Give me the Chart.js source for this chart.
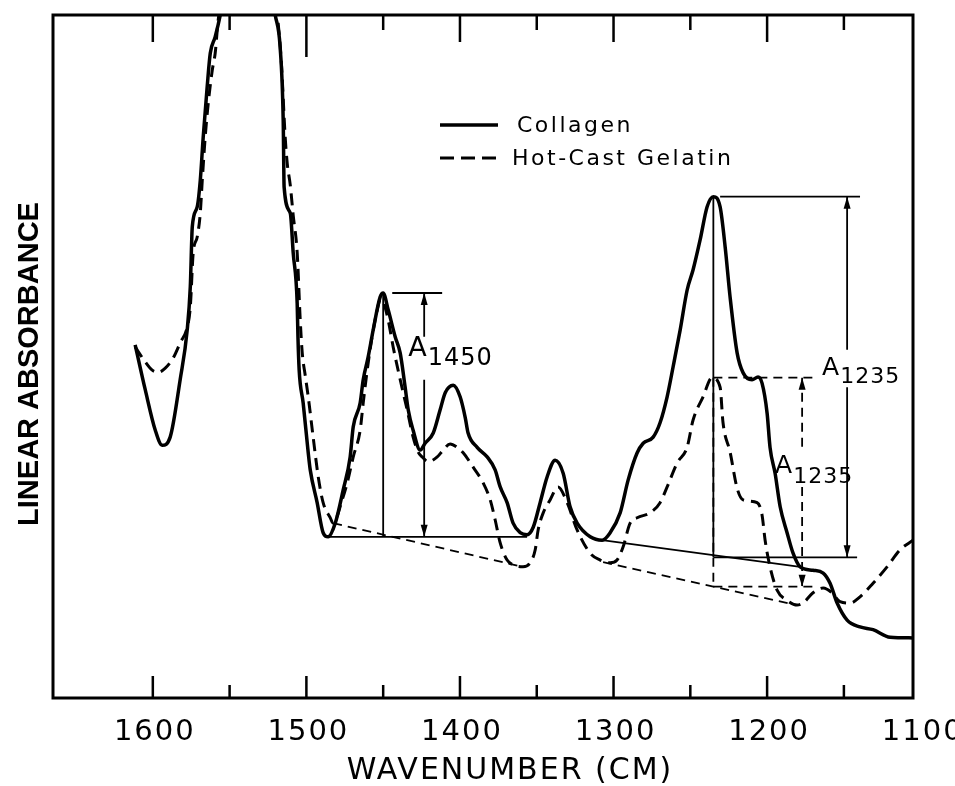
<!DOCTYPE html>
<html>
<head>
<meta charset="utf-8">
<script src="https://cdn.jsdelivr.net/npm/chart.js@4.4.0/dist/chart.umd.min.js"></script>
<style>
  html, body { margin: 0; padding: 0; background: #fff; }
  #wrap { width: 955px; height: 786px; }
</style>
</head>
<body>
<div id="wrap"><canvas id="chSpectra" width="955" height="786"></canvas></div>
<script>
// wavenumber (cm-1) and absorbance (arbitrary units, 0-100 over the frame)
var collagenWn = [1611.5,1604.9,1598.4,1593.9,1588.7,1582.2,1577.6,1575.6,1574.3,1571.1,
  1569.1,1567.2,1564.6,1562.6,1559.4,1556.1,1538.5,1520.3,1517.1,1515.1,
  1514.5,1510.5,1508.6,1506.0,1505.5,1504.7,1502.1,1498.8,1497.5,1493.0,
  1489.1,1485.8,1481.2,1476.0,1471.5,1469.5,1465.0,1463.0,1459.8,1456.5,
  1452.0,1450.0,1446.7,1442.2,1438.9,1435.7,1433.7,1430.5,1425.9,1422.7,
  1417.4,1412.9,1409.6,1404.4,1399.9,1396.6,1394.7,1388.8,1382.3,1377.1,
  1373.8,1369.3,1365.4,1360.8,1356.3,1352.3,1347.8,1343.2,1338.0,1332.8,
  1328.3,1323.7,1315.2,1307.4,1302.2,1295.7,1290.5,1284.6,1280.7,1274.2,
  1269.7,1265.1,1261.2,1256.6,1252.1,1248.2,1243.6,1239.1,1235.0,1230.6,
  1227.3,1224.1,1219.5,1215.6,1209.8,1205.9,1203.3,1200.0,1198.1,1194.8,
  1191.5,1187.0,1183.1,1178.5,1170.1,1163.5,1159.0,1154.4,1147.9,1139.5,
  1131.0,1119.9,1105.0];
var collagenAbs = [51.7,45.1,39.2,37.0,38.2,46.6,53.9,60.2,69.0,71.9,
  75.8,82.1,89.5,94.4,96.8,100,124,100,95.3,84.6,
  74.8,71.0,65.2,57.8,52.9,48.0,43.2,35.9,33.4,28.6,
  24.2,23.6,25.6,30.5,35.3,39.7,43.2,46.6,49.9,53.9,
  58.7,59.3,56.8,52.9,50.5,45.5,42.2,39.2,36.3,37.3,
  38.8,42.2,44.7,45.8,44.1,41.1,38.8,36.7,35.3,33.4,
  30.9,28.6,25.6,24.2,23.9,25.0,28.6,32.4,34.8,32.9,
  28.0,25.6,23.6,23.1,24.2,27.1,31.9,35.9,37.3,38.2,
  40.3,44.1,48.5,53.9,59.7,62.7,67.1,71.9,73.4,71.9,
  66.0,58.7,50.5,47.6,46.6,47.0,46.1,41.7,36.7,32.9,
  28.0,24.2,21.2,19.2,18.7,18.3,16.8,13.9,11.4,10.4,
  10.0,8.9,8.8];

var gelatinWn = [1611.5,1604.9,1600.4,1596.5,1591.9,1586.7,1582.2,1577.6,1575.6,1573.7,
  1571.1,1569.1,1567.8,1565.9,1563.9,1561.3,1559.4,1557.4,1538.5,1519.0,
  1516.4,1513.8,1512.5,1510.5,1508.6,1506.0,1504.0,1502.7,1500.8,1498.8,
  1495.6,1492.3,1489.1,1484.5,1482.6,1476.7,1473.4,1469.5,1465.0,1463.0,
  1460.4,1457.2,1453.9,1452.0,1450.0,1446.7,1443.5,1438.9,1434.4,1430.5,
  1427.2,1424.6,1420.7,1414.8,1410.9,1406.4,1401.8,1397.9,1391.4,1384.9,
  1380.3,1377.1,1373.8,1369.3,1365.4,1358.9,1354.3,1351.0,1349.1,1345.8,
  1341.3,1336.1,1330.2,1323.7,1315.2,1308.7,1302.2,1297.7,1293.8,1289.2,
  1284.6,1276.2,1269.7,1265.1,1258.6,1252.1,1248.2,1241.7,1235.8,1230.6,
  1228.7,1224.1,1219.5,1215.6,1206.5,1203.3,1201.3,1198.1,1193.5,1187.0,
  1180.5,1176.6,1170.1,1163.5,1157.7,1152.5,1146.0,1139.5,1131.0,1121.9,
  1113.4,1105.0];
var gelatinAbs = [51.4,49.2,48.0,47.7,48.3,49.8,52.0,54.3,57.2,65.2,
  67.5,71.0,75.8,82.1,87.1,91.9,94.4,99.3,122,100,
  93.4,82.1,78.3,75.1,70.7,65.2,55.3,50.5,47.3,44.1,
  38.2,32.4,28.6,26.4,25.6,29.0,31.5,35.3,39.2,43.2,
  48.0,52.9,56.8,58.3,58.0,55.3,51.4,46.6,42.2,38.2,
  36.0,35.3,34.6,35.3,36.3,37.2,36.7,35.9,33.8,31.5,
  29.0,26.1,22.7,20.2,19.5,19.2,19.8,21.7,24.6,27.1,
  29.0,30.9,28.6,24.6,21.2,20.2,19.8,20.2,22.1,25.6,
  26.4,27.1,28.6,30.9,34.4,36.7,40.7,44.1,46.9,45.5,
  40.3,36.0,30.7,29.0,28.6,26.8,23.1,19.2,15.8,14.3,
  13.6,13.9,15.4,16.1,15.4,14.1,13.9,14.8,16.8,19.2,
  21.7,23.1];

// baselines drawn under the bands: [wn, abs] end points
var collagenBase1450 = [[1485.8, 23.6], [1356.3, 23.6]];
var gelatinBase1450 = [[1482.6, 25.6], [1358.9, 19.2]];
var collagenBase1235 = [[1307.4, 23.1], [1178.5, 19.2]];
var gelatinBase1235 = [[1306.8, 19.9], [1180.5, 13.6]];

// band height measurements: [band, peak, baseline]
var collagenA1450 = [1450, 59.3, 23.6];
var collagenA1235 = [1235, 73.4, 20.6];
var gelatinA1235 = [1235, 46.9, 16.3];

var xLabelTicks = [1600, 1500, 1400, 1300, 1200, 1100];
var xMinorTicks = [1550, 1450, 1350, 1250, 1150];

function pts(wn, abs) {
  return wn.map(function (w, i) { return {x: w, y: abs[i]}; });
}
function seg(p) {
  return p.map(function (q) { return q ? {x: q[0], y: q[1]} : {x: NaN, y: NaN}; });
}

var thin = 1.8;
var dashT = [9, 6];

function lineSet(data, dashed, width) {
  return {
    data: data, borderColor: '#000', borderWidth: width || thin,
    borderDash: dashed ? dashT : [], pointRadius: 0, tension: 0, spanGaps: false
  };
}

var datasets = [
  {
    label: 'Collagen', data: pts(collagenWn, collagenAbs),
    borderColor: '#000', borderWidth: 3.5, pointRadius: 0,
    cubicInterpolationMode: 'monotone'
  },
  {
    label: 'Hot-Cast Gelatin', data: pts(gelatinWn, gelatinAbs),
    borderColor: '#000', borderWidth: 3, borderDash: [12, 7], pointRadius: 0,
    cubicInterpolationMode: 'monotone'
  },
  // baselines
  lineSet(seg(collagenBase1450), false),
  lineSet(seg(gelatinBase1450), true),
  lineSet(seg(collagenBase1235), false),
  lineSet(seg(gelatinBase1235), true),
  // A1450, collagen
  lineSet(seg([[collagenA1450[0], collagenA1450[1]], [collagenA1450[0], collagenA1450[2]]]), false),
  lineSet(seg([[1444.1, collagenA1450[1]], [1411.6, collagenA1450[1]]]), false),
  lineSet(seg([[1423.3, collagenA1450[1]], [1423.3, 52.9], null, [1423.3, 46.6], [1423.3, collagenA1450[2]]]), false),
  // A1235, collagen
  lineSet(seg([[collagenA1235[0], collagenA1235[1]], [collagenA1235[0], collagenA1235[2]]]), false),
  lineSet(seg([[1230.6, collagenA1235[1]], [1139.5, collagenA1235[1]]]), false),
  lineSet(seg([[collagenA1235[0], collagenA1235[2]], [1141.4, collagenA1235[2]]]), false),
  lineSet(seg([[1147.9, collagenA1235[1]], [1147.9, 51.0], null, [1147.9, 45.5], [1147.9, collagenA1235[2]]]), false),
  // A1235, gelatin
  lineSet(seg([[gelatinA1235[0], gelatinA1235[1]], [gelatinA1235[0], gelatinA1235[2]]]), true),
  lineSet(seg([[gelatinA1235[0], gelatinA1235[1]], [1168.8, gelatinA1235[1]]]), true),
  lineSet(seg([[gelatinA1235[0], gelatinA1235[2]], [1170.1, gelatinA1235[2]]]), true),
  lineSet(seg([[1177.2, gelatinA1235[1]], [1177.2, 35.9], null, [1177.2, 30.9], [1177.2, gelatinA1235[2]]]), true)
];

// arrow heads: [wn, abs, direction] (-1 up, 1 down)
var arrowHeads = [
  [1423.3, collagenA1450[1], -1], [1423.3, collagenA1450[2], 1],
  [1147.9, collagenA1235[1], -1], [1147.9, collagenA1235[2], 1],
  [1177.2, gelatinA1235[1], -1], [1177.2, gelatinA1235[2], 1]
];

function subLabel(ctx, x, y, main, sub, mainPx, subPx, drop) {
  ctx.textAlign = 'left';
  ctx.textBaseline = 'alphabetic';
  ctx.font = mainPx + 'px "DejaVu Sans"';
  ctx.fillText(main, x, y);
  var w = ctx.measureText(main).width;
  ctx.font = subPx + 'px "DejaVu Sans"';
  ctx.letterSpacing = '1px';
  ctx.fillText(sub, x + w + 1, y + drop);
  ctx.letterSpacing = '0px';
}

var decorations = {
  id: 'decorations',
  afterDatasetsDraw: function (chart) {
    var ctx = chart.ctx, a = chart.chartArea;
    var xs = chart.scales.x, ys = chart.scales.y;
    ctx.save();
    ctx.strokeStyle = '#000';
    ctx.fillStyle = '#000';
    ctx.setLineDash([]);

    // frame
    ctx.lineWidth = 3;
    ctx.strokeRect(a.left, a.top, a.right - a.left, a.bottom - a.top);

    // ticks on top and bottom edges
    ctx.lineWidth = 2.5;
    function tick(w, topLen, botLen) {
      var x = xs.getPixelForValue(w);
      ctx.beginPath();
      ctx.moveTo(x, a.top); ctx.lineTo(x, a.top + topLen);
      ctx.moveTo(x, a.bottom); ctx.lineTo(x, a.bottom - botLen);
      ctx.stroke();
    }
    xLabelTicks.forEach(function (w) {
      if (w > xs.min) tick(w, w === 1500 ? 42 : 27, 22);
    });
    xMinorTicks.forEach(function (w) { tick(w, 15, 13); });

    // tick labels
    ctx.font = '29px "DejaVu Sans"';
    ctx.letterSpacing = '2px';
    ctx.textAlign = 'center';
    ctx.textBaseline = 'middle';
    xLabelTicks.forEach(function (w) {
      ctx.fillText(String(w), xs.getPixelForValue(w) + 2, a.bottom + 34);
    });

    // axis titles
    ctx.font = '30px "DejaVu Sans"';
    ctx.letterSpacing = '2px';
    ctx.fillText('WAVENUMBER (CM)', 510, 771);
    ctx.letterSpacing = '0px';
    ctx.save();
    ctx.translate(30, 364);
    ctx.rotate(-Math.PI / 2);
    ctx.font = 'bold 29px "Liberation Sans"';
    ctx.fillText('LINEAR ABSORBANCE', 0, 0);
    ctx.restore();

    // legend
    ctx.lineWidth = 3.5;
    ctx.beginPath();
    ctx.moveTo(440, 125); ctx.lineTo(498, 125);
    ctx.stroke();
    ctx.lineWidth = 3;
    ctx.setLineDash([14, 7]);
    ctx.beginPath();
    ctx.moveTo(440, 158); ctx.lineTo(500, 158);
    ctx.stroke();
    ctx.setLineDash([]);
    ctx.font = '22px "DejaVu Sans"';
    ctx.letterSpacing = '2.5px';
    ctx.textAlign = 'left';
    ctx.fillText(datasets[0].label, 517, 126);
    ctx.fillText(datasets[1].label, 512, 159);
    ctx.letterSpacing = '0px';

    // arrow heads
    arrowHeads.forEach(function (h) {
      var x = xs.getPixelForValue(h[0]), y = ys.getPixelForValue(h[1]), d = h[2];
      ctx.beginPath();
      ctx.moveTo(x, y);
      ctx.lineTo(x - 3.5, y - d * 12);
      ctx.lineTo(x + 3.5, y - d * 12);
      ctx.closePath();
      ctx.fill();
    });

    // band labels
    var x1 = xs.getPixelForValue(1423.3);
    subLabel(ctx, x1 - 16, ys.getPixelForValue(46.6) - 24, 'A', '1450', 27, 24, 9);
    var x2 = xs.getPixelForValue(1147.9);
    subLabel(ctx, x2 - 25, ys.getPixelForValue(45.5) - 12, 'A', '1235', 25, 22, 8);
    var x3 = xs.getPixelForValue(1177.2);
    subLabel(ctx, x3 - 27, ys.getPixelForValue(30.9) - 14, 'A', '1235', 25, 22, 10);

    ctx.restore();
  }
};

new Chart(document.getElementById('chSpectra'), {
  type: 'line',
  data: {datasets: datasets},
  options: {
    responsive: false,
    animation: false,
    devicePixelRatio: 1,
    layout: {padding: {left: 53, top: 15, right: 42, bottom: 88}},
    plugins: {legend: {display: false}, tooltip: {enabled: false}},
    scales: {
      x: {type: 'linear', min: 1105, max: 1665, reverse: true, display: false},
      y: {type: 'linear', min: 0, max: 100, display: false}
    }
  },
  plugins: [decorations]
});
</script>
</body>
</html>
